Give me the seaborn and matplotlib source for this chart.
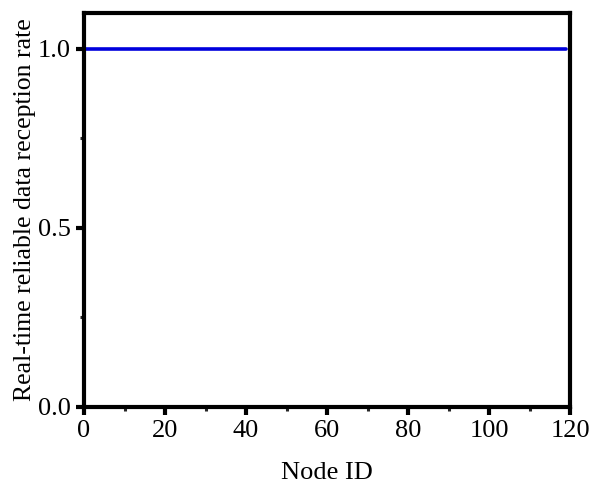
import matplotlib
matplotlib.use("Agg")
import matplotlib.pyplot as plt
import seaborn as sns
import pandas as pd
from matplotlib.ticker import MultipleLocator

# Reception rate per node
node_ids = list(range(0, 120))
reception_rate = [
    1.0, 1.0, 1.0, 1.0, 1.0, 1.0, 1.0, 1.0, 1.0, 1.0, 1.0, 1.0,
    1.0, 1.0, 1.0, 1.0, 1.0, 1.0, 1.0, 1.0, 1.0, 1.0, 1.0, 1.0,
    1.0, 1.0, 1.0, 1.0, 1.0, 1.0, 1.0, 1.0, 1.0, 1.0, 1.0, 1.0,
    1.0, 1.0, 1.0, 1.0, 1.0, 1.0, 1.0, 1.0, 1.0, 1.0, 1.0, 1.0,
    1.0, 1.0, 1.0, 1.0, 1.0, 1.0, 1.0, 1.0, 1.0, 1.0, 1.0, 1.0,
    1.0, 1.0, 1.0, 1.0, 1.0, 1.0, 1.0, 1.0, 1.0, 1.0, 1.0, 1.0,
    1.0, 1.0, 1.0, 1.0, 1.0, 1.0, 1.0, 1.0, 1.0, 1.0, 1.0, 1.0,
    1.0, 1.0, 1.0, 1.0, 1.0, 1.0, 1.0, 1.0, 1.0, 1.0, 1.0, 1.0,
    1.0, 1.0, 1.0, 1.0, 1.0, 1.0, 1.0, 1.0, 1.0, 1.0, 1.0, 1.0,
    1.0, 1.0, 1.0, 1.0, 1.0, 1.0, 1.0, 1.0, 1.0, 1.0, 1.0, 1.0,
]
x_ticks = [0, 20, 40, 60, 80, 100, 120]
y_ticks = [0.0, 0.5, 1.0]

df = pd.DataFrame({"Node ID": node_ids, "rate": reception_rate})

sns.set_style("ticks")
plt.rcParams["font.family"] = ["Liberation Serif", "DejaVu Serif"]
plt.rcParams["font.size"] = 19
plt.rcParams["text.color"] = "black"
plt.rcParams["axes.labelcolor"] = "black"

fig = plt.figure(figsize=(5.89, 4.86), dpi=100)
ax = fig.add_axes([0.1426, 0.1626, 0.8254, 0.8104])

sns.lineplot(data=df, x="Node ID", y="rate", ax=ax, color="#0000dd", linewidth=2.6)

ax.set_xlim(0, 120)
ax.set_ylim(0, 1.1)
ax.set_xticks(x_ticks)
ax.set_yticks(y_ticks)
ax.set_yticklabels([f"{v:.1f}" for v in y_ticks])
ax.xaxis.set_minor_locator(MultipleLocator(10))
ax.yaxis.set_minor_locator(MultipleLocator(0.25))

for s in ax.spines.values():
    s.set_linewidth(3.0)
    s.set_color("black")
    s.set_visible(True)

ax.tick_params(axis="both", which="major", direction="out", length=5.5, width=3.0,
               labelsize=19, colors="black", pad=4)
ax.tick_params(axis="both", which="minor", direction="out", length=3, width=2.2)
ax.tick_params(axis="both", which="both", top=False, right=False)

ax.set_xlabel("Node ID", fontsize=19, labelpad=14, color="black")
ax.set_ylabel("Real-time reliable data reception rate", fontsize=18.5, labelpad=1,
              color="black")

fig.savefig("out.png", dpi=100)
